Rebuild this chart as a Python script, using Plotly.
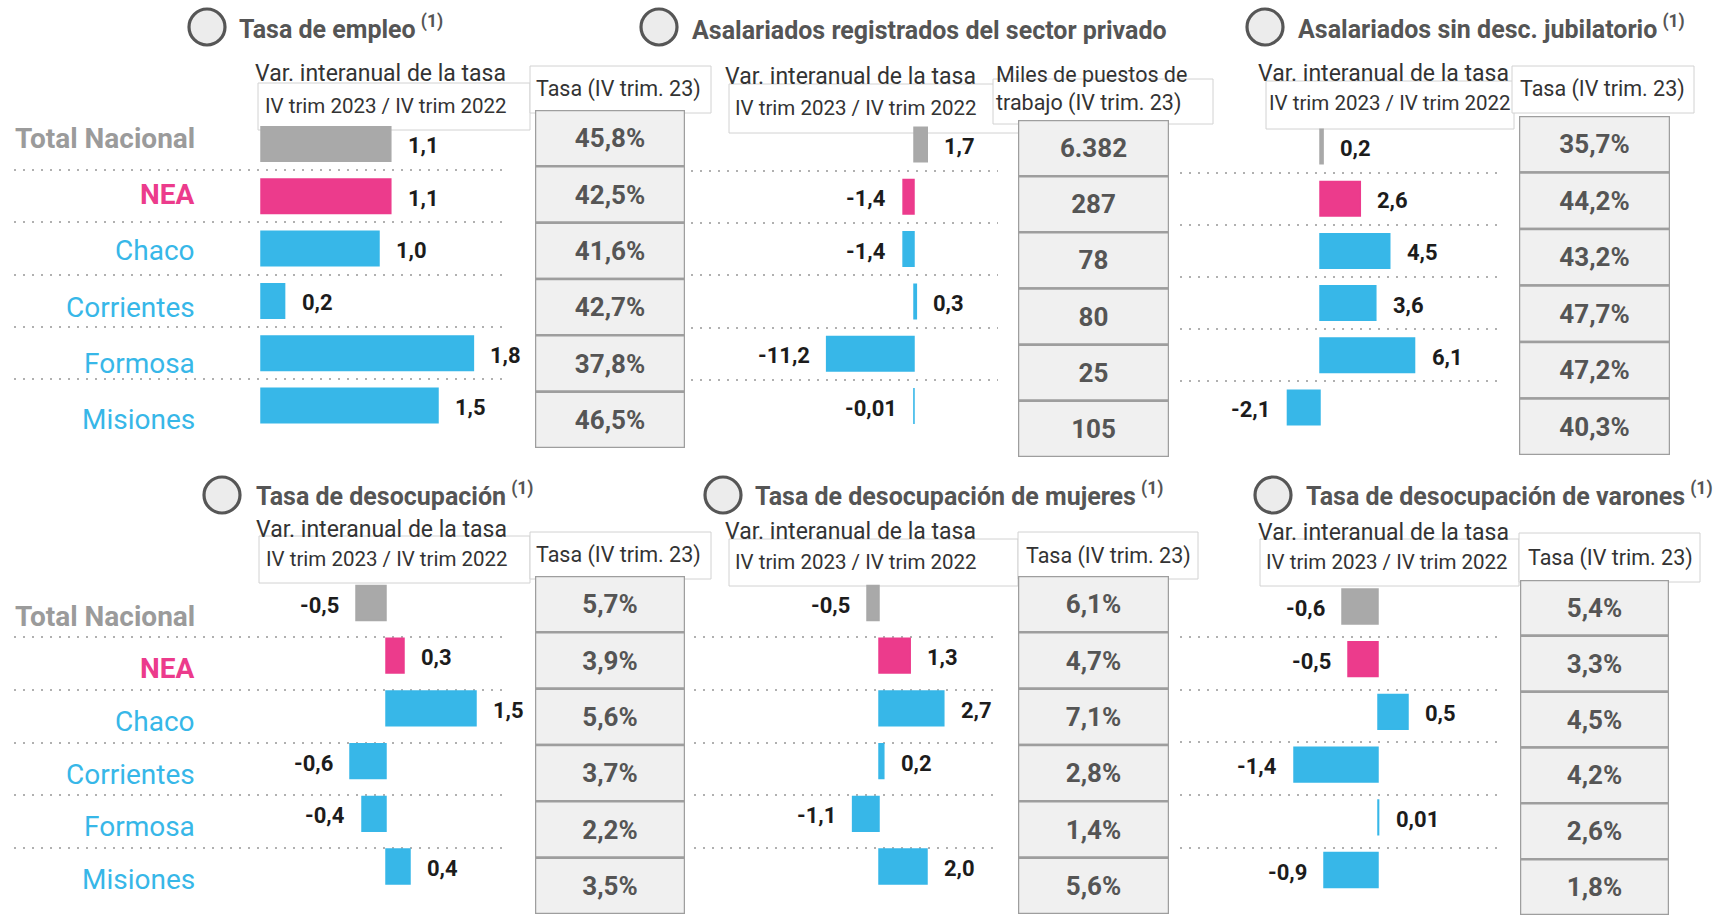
import plotly.graph_objects as go

W, H = 1717, 915

# ---------------- data ----------------
categorias = ["Total Nacional", "NEA", "Chaco", "Corrientes", "Formosa", "Misiones"]

tasa_empleo_var = [1.1, 1.1, 1.0, 0.2, 1.8, 1.5]
tasa_empleo_nivel = [45.8, 42.5, 41.6, 42.7, 37.8, 46.5]

asal_reg_var = [1.7, -1.4, -1.4, 0.3, -11.2, -0.01]
asal_reg_miles = [6382, 287, 78, 80, 25, 105]

asal_sin_desc_var = [0.2, 2.6, 4.5, 3.6, 6.1, -2.1]
asal_sin_desc_nivel = [35.7, 44.2, 43.2, 47.7, 47.2, 40.3]

desocup_var = [-0.5, 0.3, 1.5, -0.6, -0.4, 0.4]
desocup_nivel = [5.7, 3.9, 5.6, 3.7, 2.2, 3.5]

desocup_muj_var = [-0.5, 1.3, 2.7, 0.2, -1.1, 2.0]
desocup_muj_nivel = [6.1, 4.7, 7.1, 2.8, 1.4, 5.6]

desocup_varones_var = [-0.6, -0.5, 0.5, -1.4, 0.01, -0.9]
desocup_varones_nivel = [5.4, 3.3, 4.5, 4.2, 2.6, 1.8]

titulos = [
    "Tasa de empleo",
    "Asalariados registrados del sector privado",
    "Asalariados sin desc. jubilatorio",
    "Tasa de desocupación",
    "Tasa de desocupación de mujeres",
    "Tasa de desocupación de varones",
]
con_nota = [True, False, True, True, True, True]
encab_var = "Var. interanual de la tasa"
encab_periodo = "IV trim 2023 / IV trim 2022"
encab_tasa = "Tasa (IV trim. 23)"
encab_miles = "Miles de puestos de<br>trabajo (IV trim. 23)"


def fmt_var(v):
    s = f"{v:.2f}" if abs(v) < 0.1 else f"{v:.1f}"
    return s.replace(".", ",")


def fmt_pct(v):
    return f"{v:.1f}%".replace(".", ",")


def fmt_miles(v):
    return f"{v:,}".replace(",", ".")


paneles = [
    (tasa_empleo_var, [fmt_pct(v) for v in tasa_empleo_nivel], encab_tasa),
    (asal_reg_var, [fmt_miles(v) for v in asal_reg_miles], encab_miles),
    (asal_sin_desc_var, [fmt_pct(v) for v in asal_sin_desc_nivel], encab_tasa),
    (desocup_var, [fmt_pct(v) for v in desocup_nivel], encab_tasa),
    (desocup_muj_var, [fmt_pct(v) for v in desocup_muj_nivel], encab_tasa),
    (desocup_varones_var, [fmt_pct(v) for v in desocup_varones_nivel], encab_tasa),
]

# ---------------- layout geometry (pixels) ----------------
geo = [
    dict(circ=(207, 27), tit=(237, 28), var=(253, 73), ivbox=(258, 83, 530, 130), ivtxt=(263, 106),
         hbox=(530, 66, 711, 113), htxt=(534, 89), dom=(14, 503), zero=261, scale=118,
         top=144, pitch=52.3, sep=0.5, tab=(535, 110, 685, 448)),
    dict(circ=(659, 27), tit=(690, 30), var=(723, 76), ivbox=(729, 84, 1019, 133), ivtxt=(733, 108),
         hbox=(993, 79, 1213, 124), htxt=(994, 89), dom=(691, 998), zero=914, scale=7.8,
         top=144.5, pitch=52.3, sep=0.5, tab=(1018, 120, 1169, 457)),
    dict(circ=(1265, 27), tit=(1296, 28), var=(1256, 73), ivbox=(1266, 81, 1514, 129), ivtxt=(1267, 103),
         hbox=(1512, 66, 1694, 113), htxt=(1518, 89), dom=(1180, 1502), zero=1320, scale=15.5,
         top=146.5, pitch=52.2, sep=0.5, tab=(1519, 116, 1670, 455)),
    dict(circ=(222, 495), tit=(254, 494), var=(254, 529), ivbox=(259, 536, 530, 583), ivtxt=(264, 559),
         hbox=(530, 532, 711, 579), htxt=(534, 555), dom=(14, 503), zero=386, scale=60,
         top=603, pitch=52.7, sep=0.65, tab=(535, 576, 685, 914)),
    dict(circ=(723, 495), tit=(753, 494), var=(723, 531), ivbox=(729, 539, 1018, 586), ivtxt=(733, 562),
         hbox=(1018, 532, 1198, 579), htxt=(1024, 556), dom=(694, 998), zero=879, scale=24,
         top=603, pitch=52.7, sep=0.65, tab=(1018, 576, 1169, 914)),
    dict(circ=(1273, 495), tit=(1304, 494), var=(1256, 532), ivbox=(1260, 539, 1519, 586), ivtxt=(1264, 562),
         hbox=(1519, 533, 1700, 582), htxt=(1526, 558), dom=(1180, 1502), zero=1378, scale=60,
         top=606.5, pitch=52.7, sep=0.58, tab=(1520, 580, 1669, 915)),
]

COLOR_TOTAL = "#a9a9a9"
COLOR_NEA = "#ec3b8c"
COLOR_PROV = "#37b7e8"
FONT = "Roboto"


def color_cat(c):
    return {"Total Nacional": COLOR_TOTAL, "NEA": COLOR_NEA}.get(c, COLOR_PROV)


def px(x):
    return x / W


def py(y):
    return 1 - y / H


fig = go.Figure()
axes = {}
shapes = []
annotations = []
n = len(categorias)
ypos = list(range(n))

for k, ((valores, tabla, encab), g) in enumerate(zip(paneles, geo)):
    ib = 2 * k + 1
    it = 2 * k + 2
    xb, yb = ("x" if ib == 1 else f"x{ib}"), ("y" if ib == 1 else f"y{ib}")
    xt, yt = f"x{it}", f"y{it}"

    # bar chart
    fig.add_trace(go.Bar(
        x=valores, y=ypos, orientation="h", width=0.66,
        marker=dict(color=[color_cat(c) for c in categorias],
                    line=dict(color=[color_cat(c) for c in categorias], width=1.5)),
        hovertext=categorias, hoverinfo="text+x",
        xaxis=xb, yaxis=yb, cliponaxis=False,
    ))
    d0, d1 = g["dom"]
    top_px = g["top"] - g["pitch"] / 2
    bot_px = g["top"] + (n - 0.5) * g["pitch"]
    axes["xaxis" if ib == 1 else f"xaxis{ib}"] = dict(
        domain=[px(d0), px(d1)],
        range=[(d0 - g["zero"]) / g["scale"], (d1 - g["zero"]) / g["scale"]],
        visible=False, fixedrange=True)
    axes["yaxis" if ib == 1 else f"yaxis{ib}"] = dict(
        domain=[py(bot_px), py(top_px)], range=[n - 0.5, -0.5], anchor=xb,
        tickvals=[i + g["sep"] for i in range(n - 1)], showticklabels=False,
        ticks="", showgrid=True, gridcolor="#b0b0b0", gridwidth=1.6, griddash="2px,7px",
        zeroline=False, showline=False, fixedrange=True)

    # value labels
    for i, v in enumerate(valores):
        annotations.append(dict(
            x=v, y=i, xref=xb, yref=yb, text=f"<b>{fmt_var(v)}</b>", showarrow=False,
            xanchor="left" if v >= 0 else "right", xshift=15 if v >= 0 else -15, yshift=-2,
            font=dict(family=FONT, size=22, color="#1c1c1c")))

    # table as cells
    tx0, ty0, tx1, ty1 = g["tab"]
    fig.add_trace(go.Bar(
        x=[1] * n, y=ypos, orientation="h", width=1, base=0,
        marker=dict(color="#f0f0f0", line=dict(color="#9e9e9e", width=2.5)),
        text=tabla, textposition="inside", insidetextanchor="middle",
        textfont=dict(family=FONT, size=26, color="#555555", weight="bold"),
        constraintext="none", hoverinfo="skip",
        xaxis=xt, yaxis=yt, cliponaxis=False,
    ))
    axes[f"xaxis{it}"] = dict(domain=[px(tx0), px(tx1)], range=[0, 1], visible=False, fixedrange=True)
    axes[f"yaxis{it}"] = dict(domain=[py(ty1), py(ty0)], range=[n - 0.5, -0.5], anchor=xt,
                              visible=False, fixedrange=True)

    # row labels on left panels
    if k in (0, 3):
        for i, c in enumerate(categorias):
            bold = c in ("Total Nacional", "NEA")
            txt = f"<b>{c}</b>" if bold else c
            annotations.append(dict(
                x=px(197), xref="paper", xanchor="right",
                y=(i if k == 0 else i + 0.25), yref=(yt if k == 0 else yb), yanchor="middle",
                text=txt, showarrow=False,
                font=dict(family=FONT, size=28, color=color_cat(c) if c != "Total Nacional" else "#9b9b9b")))

    # title with circle
    cx, cy = g["circ"]
    r = 18
    shapes.append(dict(type="circle", xref="paper", yref="paper",
                       x0=px(cx - r), x1=px(cx + r), y0=py(cy + r), y1=py(cy - r),
                       line=dict(color="#565656", width=3.2), fillcolor="#ececec"))
    ttxt = f"<b>{titulos[k]}</b>"
    if con_nota[k]:
        ttxt += "\u2009<b><sup>(1)</sup></b>"
    annotations.append(dict(x=px(g["tit"][0]), y=py(g["tit"][1]), xref="paper", yref="paper",
                            xanchor="left", yanchor="middle", text=ttxt, showarrow=False,
                            font=dict(family=FONT, size=25, color="#555555")))

    # header boxes
    bx0, by0, bx1, by1 = g["ivbox"]
    shapes.append(dict(type="rect", xref="paper", yref="paper", layer="below",
                       x0=px(bx0), x1=px(bx1), y0=py(by1), y1=py(by0),
                       line=dict(color="#d2d2d2", width=1), fillcolor="white"))
    hx0, hy0, hx1, hy1 = g["hbox"]
    shapes.append(dict(type="rect", xref="paper", yref="paper", layer="below",
                       x0=px(hx0), x1=px(hx1), y0=py(hy1), y1=py(hy0),
                       line=dict(color="#d2d2d2", width=1), fillcolor="white"))
    annotations.append(dict(x=px(g["var"][0]), y=py(g["var"][1]), xref="paper", yref="paper",
                            xanchor="left", yanchor="middle", text=encab_var, showarrow=False,
                            font=dict(family=FONT, size=23, color="#333333")))
    annotations.append(dict(x=px(g["ivtxt"][0]), y=py(g["ivtxt"][1]), xref="paper", yref="paper",
                            xanchor="left", yanchor="middle", text=encab_periodo, showarrow=False,
                            font=dict(family=FONT, size=20.5, color="#333333")))
    annotations.append(dict(x=px(g["htxt"][0]), y=py(g["htxt"][1]), xref="paper", yref="paper",
                            xanchor="left", yanchor="middle", text=encab, showarrow=False, align="left",
                            font=dict(family=FONT, size=21.5, color="#333333")))

fig.update_layout(
    width=W, height=H, margin=dict(l=0, r=0, t=0, b=0),
    paper_bgcolor="white", plot_bgcolor="rgba(0,0,0,0)",
    showlegend=False, barmode="overlay",
    font=dict(family=FONT),
    shapes=shapes, annotations=annotations,
    **axes,
)

fig.write_html(
    "out.html",
    config={"displayModeBar": False},
    post_script="document.body.style.margin='0';document.body.style.overflow='hidden';",
)
